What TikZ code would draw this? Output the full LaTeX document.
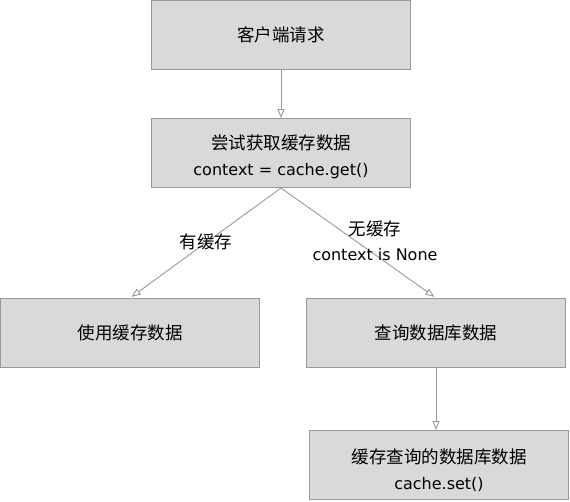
\documentclass[tikz,border=0pt]{standalone}
\usepackage{fontspec}
\setmainfont{DejaVu Sans}
\newfontfamily\cjk{Noto Sans CJK SC}
\usetikzlibrary{arrows.meta}
\definecolor{boxfill}{HTML}{D9D9D9}
\definecolor{boxline}{HTML}{999999}
\newcommand{\zh}[1]{{\cjk\fontsize{17.5}{25}\selectfont #1}}
\newcommand{\topgap}[1]{\rule{0pt}{#1}}
\tikzstyle{stepbox}=[draw=boxline,fill=boxfill,line width=1pt,minimum width=259pt,minimum height=69pt,align=center,font=\fontsize{16}{25.5}\selectfont]
\tikzstyle{flow}=[draw=boxline,line width=0.9pt,-{Triangle[open,length=9pt,width=7pt]}]
\tikzstyle{flowlabel}=[align=center,font=\fontsize{16}{25}\selectfont]

\begin{document}
\begin{tikzpicture}[x=1pt,y=-1pt]
	\useasboundingbox (0,0) rectangle (570,501);
	\node[stepbox] (request) at (281,35) {\zh{客户端请求}};
	\node[stepbox] (tryget) at (281,153) {\topgap{22.5pt}\zh{尝试获取缓存数据}\\context = cache.get()};
	\node[stepbox] (usecache) at (130,333) {\zh{使用缓存数据}};
	\node[stepbox] (querydb) at (436,333) {\zh{查询数据库数据}};
	\node[stepbox] (setcache) at (439,465) {\topgap{25.5pt}\zh{缓存查询的数据库数据}\\cache.set()};
	\draw[flow] (request) -- (tryget);
	\draw[flow,shorten >=2pt] (tryget.south) -- (usecache.north); %hit
	\draw[flow,shorten >=2pt] (tryget.south) -- (querydb.north); %miss
	\draw[flow] (querydb.south) -- (querydb.south |- setcache.north);
	\node[flowlabel] (hitlabel) at (206,242) {\zh{有缓存}};
	\node[flowlabel] (misslabel) at (375,241) {\zh{无缓存}\\context is None};
\end{tikzpicture}
\end{document}
